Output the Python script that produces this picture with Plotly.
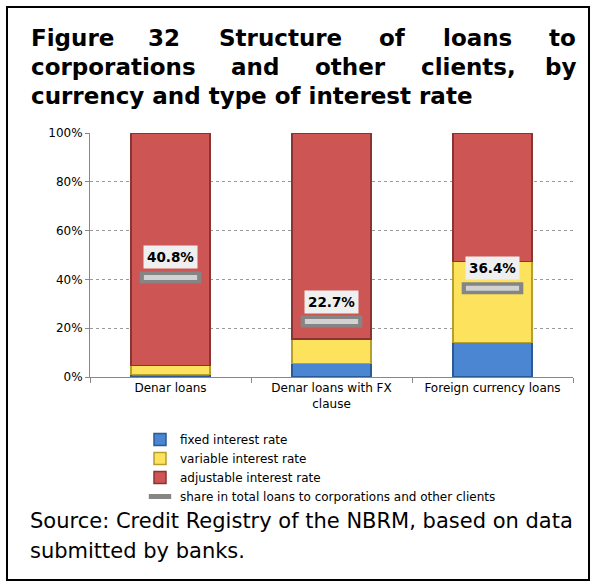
import plotly.graph_objects as go

categories = ["Denar loans", "Denar loans with FX<br>clause", "Foreign currency loans"]
fixed_rate = [1.0, 5.5, 14.2]
variable_rate = [3.8, 10.1, 33.1]
adjustable_rate = [95.2, 84.4, 52.7]
share_total = [40.8, 22.7, 36.4]
share_labels = ["40.8%", "22.7%", "36.4%"]
y_ticks = [0, 20, 40, 60, 80, 100]
y_tick_labels = ["0%", "20%", "40%", "60%", "80%", "100%"]

W, H = 597, 586
L, R, T, B = 90, 573, 133, 377

def px(x):
    return (x - L) / (R - L)

def py(y):
    return (B - y) / (B - T)

font_main = "DejaVu Sans"

fig = go.Figure()
fig.add_bar(x=categories, y=fixed_rate, name="fixed interest rate",
            marker=dict(color="#4a86d2", line=dict(color="#2c5a94", width=1.5)))
fig.add_bar(x=categories, y=variable_rate, name="variable interest rate",
            marker=dict(color="#fde25e", line=dict(color="#b79f2c", width=1.5)))
fig.add_bar(x=categories, y=adjustable_rate, name="adjustable interest rate",
            marker=dict(color="#cd5553", line=dict(color="#8a3433", width=1.5)))
fig.add_scatter(x=categories, y=share_total, mode="markers",
                name="share in total loans to corporations and other clients",
                marker=dict(symbol="line-ew", size=44, color="#858585",
                            line=dict(color="#858585", width=12)))
fig.add_scatter(x=categories, y=share_total, mode="markers", showlegend=False,
                hoverinfo="skip",
                marker=dict(symbol="line-ew", size=38, color="#d2d2d2",
                            line=dict(color="#d2d2d2", width=5)))

for c, v, t in zip(categories, share_total, share_labels):
    fig.add_annotation(x=c, y=v, text="<b>" + t + "</b>", showarrow=False,
                       yshift=20, bgcolor="#efefef",
                       font=dict(family=font_main, size=13.5, color="black"),
                       borderpad=3)

# Title, justified lines
title_font = dict(family=font_main, size=23, color="black")
line1 = [("Figure", 29, "left"), ("32", 164, "center"), ("Structure", 280, "center"),
         ("of", 392, "center"), ("loans", 477, "center"), ("to", 578, "right")]
line2 = [("corporations", 29, "left"), ("and", 255, "center"), ("other", 350, "center"),
         ("clients,", 468, "center"), ("by", 578, "right")]
for words, yc in ((line1, 37.5), (line2, 67)):
    for w, x, anc in words:
        fig.add_annotation(xref="paper", yref="paper", x=px(x), y=py(yc), text="<b>" + w + "</b>",
                           showarrow=False, xanchor=anc, yanchor="middle", font=title_font)
fig.add_annotation(xref="paper", yref="paper", x=px(29), y=py(96),
                   text="<b>currency and type of interest rate</b>",
                   showarrow=False, xanchor="left", yanchor="middle", font=title_font)

src_font = dict(family=font_main, size=21, color="black")
fig.add_annotation(xref="paper", yref="paper", x=px(28), y=py(521),
                   text="Source: Credit Registry of the NBRM, based on data",
                   showarrow=False, xanchor="left", yanchor="middle", font=src_font)
fig.add_annotation(xref="paper", yref="paper", x=px(28), y=py(551),
                   text="submitted by banks.",
                   showarrow=False, xanchor="left", yanchor="middle", font=src_font)

fig.add_shape(type="rect", xref="paper", yref="paper",
              x0=px(7), x1=px(589), y0=py(580), y1=py(7),
              line=dict(color="black", width=2), fillcolor="rgba(0,0,0,0)", layer="below")

fig.update_layout(
    width=W, height=H,
    margin=dict(l=L, r=W - R, t=T, b=H - B),
    paper_bgcolor="white", plot_bgcolor="white",
    barmode="stack", bargap=0.51,
    showlegend=True,
    legend=dict(x=px(140), y=py(425), xanchor="left", yanchor="top",
                orientation="v", font=dict(family=font_main, size=12, color="black"),
                tracegroupgap=0, traceorder="normal", itemwidth=30,
                bgcolor="rgba(0,0,0,0)"),
    font=dict(family=font_main, color="black"),
)
fig.update_xaxes(showline=True, linecolor="#888888", linewidth=1,
                 ticks="outside", tickson="boundaries", ticklen=5, tickcolor="#888888",
                 tickfont=dict(family=font_main, size=12, color="black"),
                 showgrid=False)
fig.update_yaxes(range=[0, 100], tickvals=y_ticks, ticktext=y_tick_labels,
                 showline=True, linecolor="#888888", linewidth=1,
                 ticks="outside", ticklen=4, tickcolor="#888888",
                 tickfont=dict(family=font_main, size=12, color="black"),
                 showgrid=True, gridcolor="#9a9a9a", griddash="dot", gridwidth=1,
                 zeroline=False)

fig.write_html("out.html", config={"displayModeBar": False},
               post_script="document.body.style.margin='0';")
